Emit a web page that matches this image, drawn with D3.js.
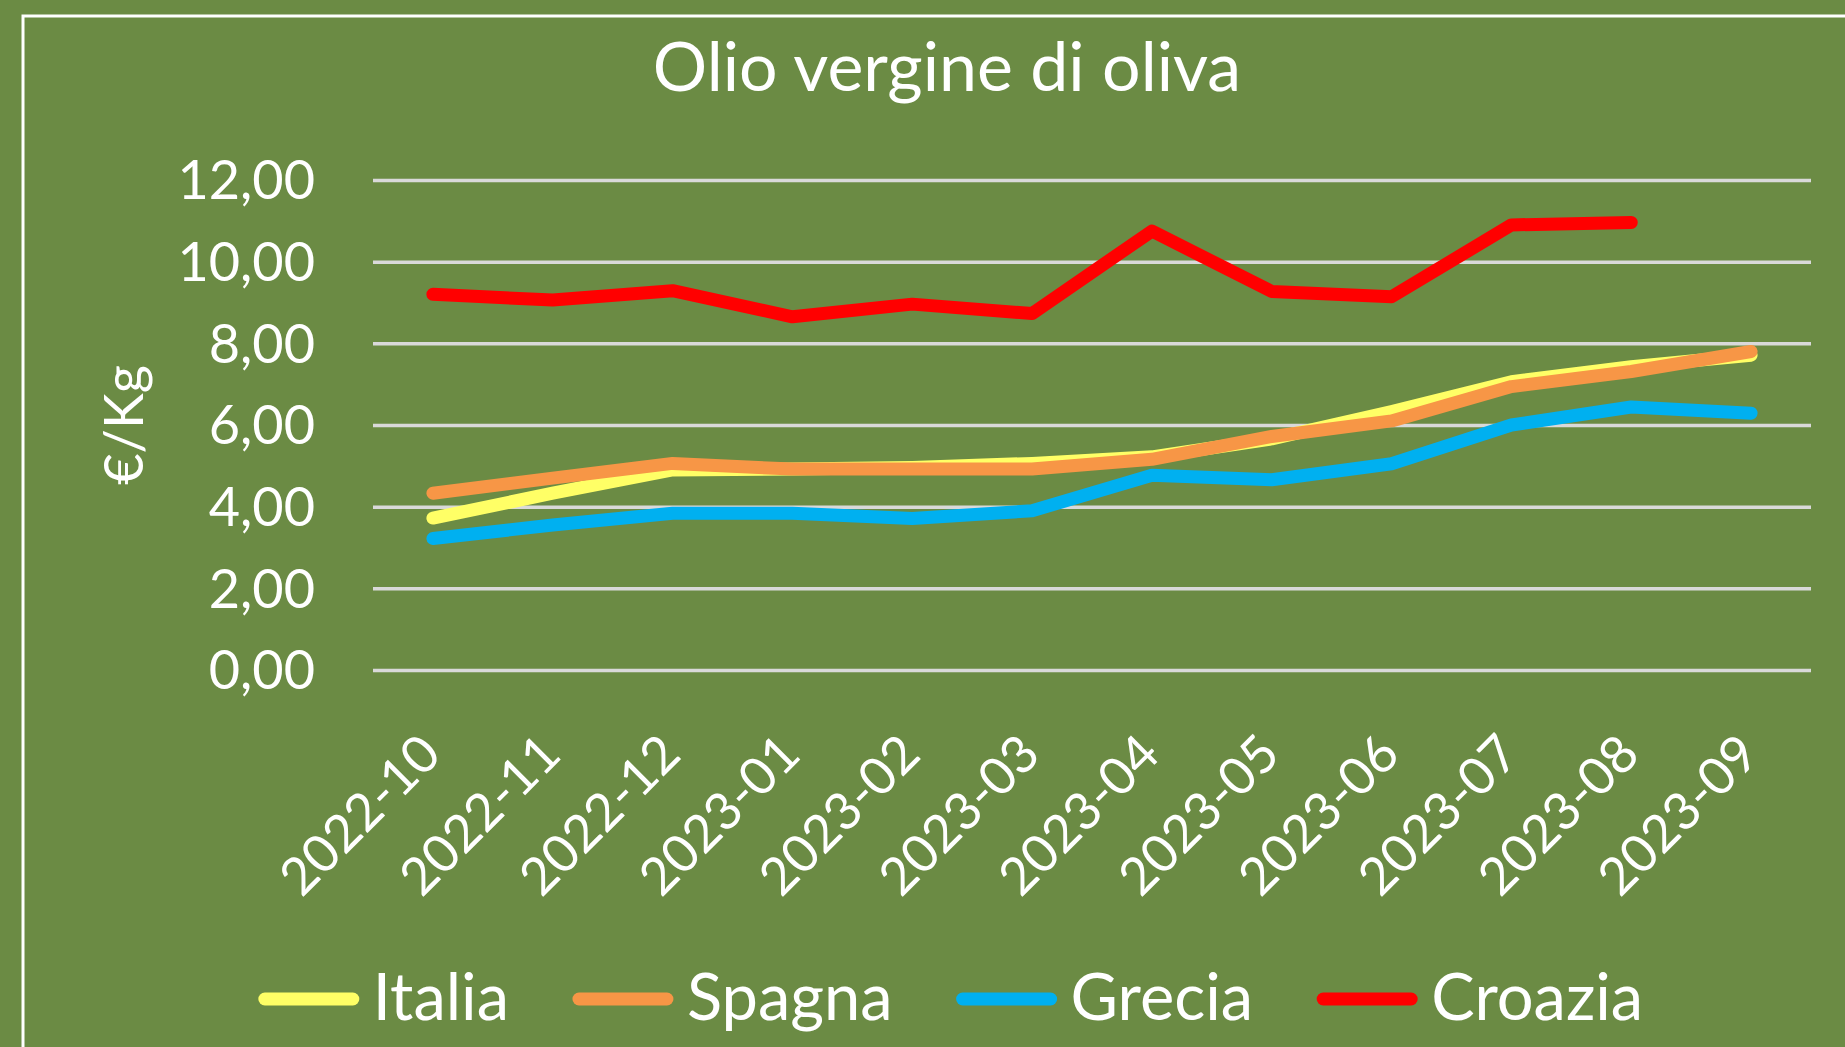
<!DOCTYPE html>
<html>
<head>
<meta charset="utf-8">
<script src="https://cdn.jsdelivr.net/npm/d3@7"></script>
<style>
  body { margin: 0; background: #6b8b44; }
  text { font-family: Lato, "Open Sans", sans-serif; fill: #ffffff; }
</style>
</head>
<body>
<svg id="chart" width="1845" height="1047"></svg>
<script>
// data
const months = ["2022-10", "2022-11", "2022-12", "2023-01", "2023-02", "2023-03",
  "2023-04", "2023-05", "2023-06", "2023-07", "2023-08", "2023-09"];
const italia = [3.72, 4.33, 4.90, 4.92, 4.96, 5.06, 5.22, 5.66, 6.33, 7.06, 7.43, 7.71];
const spagna = [4.33, 4.70, 5.06, 4.92, 4.92, 4.92, 5.16, 5.72, 6.10, 6.94, 7.31, 7.80];
const grecia = [3.22, 3.55, 3.84, 3.84, 3.71, 3.90, 4.77, 4.66, 5.05, 6.00, 6.44, 6.29];
const croazia = [9.20, 9.06, 9.29, 8.65, 8.96, 8.73, 10.75, 9.27, 9.14, 10.90, 10.96, null];
const yTicks = [0, 2, 4, 6, 8, 10, 12];

const series = [
  { name: "Italia", values: italia, color: "#ffff66" },
  { name: "Spagna", values: spagna, color: "#f79646" },
  { name: "Grecia", values: grecia, color: "#00b0f0" },
  { name: "Croazia", values: croazia, color: "#ff0000" }
];

const svg = d3.select("#chart");
const plotLeft = 373, plotRight = 1811, plotTop = 180, plotBottom = 670;

svg.append("rect")
  .attr("width", 1845).attr("height", 1047)
  .attr("fill", "#6b8b44");

// chart border (runs off the right and bottom edges)
svg.append("rect")
  .attr("x", 23).attr("y", 16)
  .attr("width", 1900).attr("height", 1100)
  .attr("fill", "none")
  .attr("stroke", "#ffffff")
  .attr("stroke-width", 3);

const x = d3.scalePoint().domain(months).range([plotLeft, plotRight]).padding(0.5);
const y = d3.scaleLinear().domain([0, 12]).range([plotBottom, plotTop]);

const it = d3.formatLocale({ decimal: ",", thousands: ".", grouping: [3], currency: ["€", ""] });
const fmt = it.format(".2f");

// y axis + gridlines
const yAxis = svg.append("g")
  .attr("transform", `translate(${plotLeft},0)`)
  .call(d3.axisLeft(y).tickValues(yTicks).tickFormat(fmt)
    .tickSizeInner(-(plotRight - plotLeft)).tickSizeOuter(0).tickPadding(58));
yAxis.select(".domain").remove();
yAxis.selectAll(".tick line")
  .attr("stroke", "#d9d9d9")
  .attr("stroke-width", 3.5);
yAxis.selectAll(".tick text")
  .attr("fill", "#ffffff")
  .style("font-size", "54px")
  .attr("dy", "0.35em");

// x axis labels, rotated
const xAxis = svg.append("g")
  .attr("transform", `translate(0,${plotBottom})`)
  .call(d3.axisBottom(x).tickSize(0));
xAxis.select(".domain").remove();
xAxis.selectAll(".tick text")
  .attr("fill", "#ffffff")
  .style("font-size", "52px")
  .attr("text-anchor", "end")
  .attr("x", 0).attr("y", 0).attr("dy", 0)
  .attr("transform", "translate(10,87) rotate(-45)");

// lines
const line = d3.line()
  .defined(d => d != null)
  .x((d, i) => x(months[i]))
  .y(d => y(d));

svg.append("g").selectAll("path")
  .data(series)
  .join("path")
  .attr("d", d => line(d.values))
  .attr("fill", "none")
  .attr("stroke", d => d.color)
  .attr("stroke-width", 13)
  .attr("stroke-linecap", "round")
  .attr("stroke-linejoin", "round");

// title
svg.append("text")
  .attr("x", 947).attr("y", 91)
  .attr("text-anchor", "middle")
  .style("font-size", "68px")
  .text("Olio vergine di oliva");

// y axis title
svg.append("text")
  .attr("transform", `translate(143,425) rotate(-90)`)
  .attr("text-anchor", "middle")
  .style("font-size", "54px")
  .text("€/Kg");

// legend
const legend = svg.append("g");
const items = legend.selectAll("g")
  .data(series)
  .join("g");
items.append("line")
  .attr("x1", 6).attr("x2", 94)
  .attr("y1", 999).attr("y2", 999)
  .attr("stroke", d => d.color)
  .attr("stroke-width", 13)
  .attr("stroke-linecap", "round");
items.append("text")
  .attr("x", 114).attr("y", 1020)
  .style("font-size", "65px")
  .text(d => d.name);

const widths = [];
items.each(function () {
  const w = 114 + d3.select(this).select("text").node().getComputedTextLength();
  widths.push(w);
});
const gap = 64;
const total = d3.sum(widths) + gap * (widths.length - 1);
let pos = 951 - total / 2;
items.attr("transform", (d, i) => {
  const t = `translate(${pos},0)`;
  pos += widths[i] + gap;
  return t;
});
</script>
</body>
</html>
